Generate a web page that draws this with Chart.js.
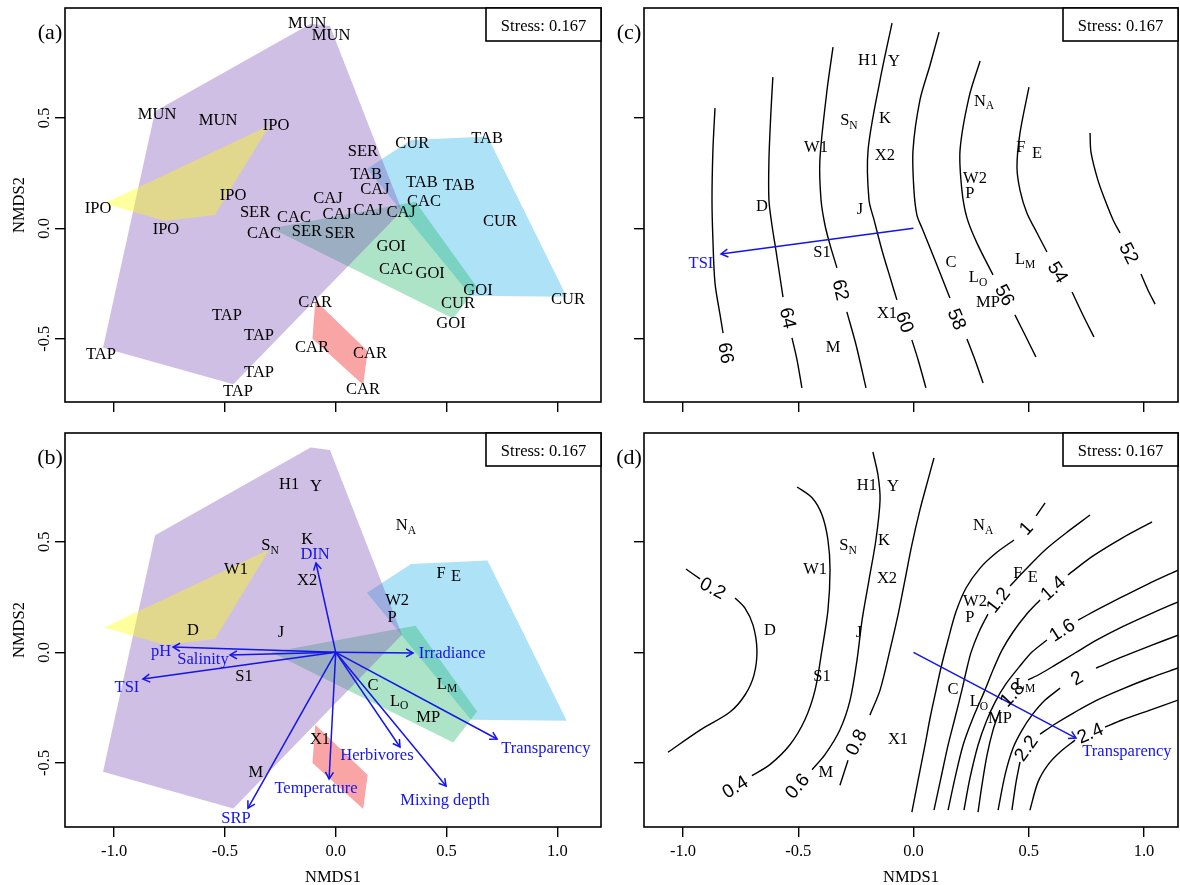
<!DOCTYPE html>
<html>
<head>
<meta charset="utf-8">
<script src="https://cdn.jsdelivr.net/npm/chart.js@4.4.1/dist/chart.umd.min.js"></script>
<style>
html,body{margin:0;padding:0;background:#fff;}
#wrap{position:relative;width:1180px;height:885px;overflow:hidden;background:#fff;}
#wrap canvas{position:absolute;left:0;top:0;width:1180px;height:885px;}
</style>
</head>
<body>
<div id="wrap">
<canvas id="pa" width="1180" height="885"></canvas>
<canvas id="pb" width="1180" height="885"></canvas>
<canvas id="pc" width="1180" height="885"></canvas>
<canvas id="pd" width="1180" height="885"></canvas>
</div>
<script>
// ---------------- DATA ----------------
const xTickVals = [-1.0, -0.5, 0.0, 0.5, 1.0];
const yTickVals = [-0.5, 0.0, 0.5];
const stressText = 'Stress: 0.167';

// (a) site labels
const siteLabels = ['MUN','MUN','MUN','MUN','IPO','SER','CUR','TAB','TAB','CAJ','TAB','TAB','CAC','CAJ','CAJ','CAJ','IPO','IPO','SER','CAC','CAJ','CAC','SER','SER','IPO','CUR','GOI','CAC','GOI','GOI','CUR','CUR','GOI','CAR','TAP','TAP','CAR','CAR','TAP','TAP','TAP','CAR'];
const siteX = [-0.129,-0.021,-0.806,-0.531,-0.269,0.123,0.345,0.683,0.137,0.177,0.389,0.556,0.398,-0.035,0.146,0.295,-0.463,-1.072,-0.364,-0.188,0.006,-0.324,-0.130,0.019,-0.766,0.741,0.250,0.272,0.426,0.642,0.552,1.048,0.520,-0.093,-0.491,-0.346,-0.107,0.155,-1.059,-0.346,-0.441,0.123];
const siteY = [0.933,0.879,0.521,0.494,0.471,0.350,0.386,0.409,0.246,0.178,0.210,0.200,0.124,0.137,0.083,0.074,0.151,0.096,0.074,0.051,0.065,-0.017,-0.012,-0.017,-0.003,0.033,-0.076,-0.184,-0.202,-0.275,-0.338,-0.320,-0.428,-0.333,-0.392,-0.483,-0.537,-0.560,-0.569,-0.646,-0.736,-0.727];

// group hulls (NMDS1, NMDS2)
const hullPurple = [[-0.815,0.530],[-0.113,0.926],[-0.026,0.915],[0.299,0.080],[-0.462,-0.706],[-1.050,-0.540]];
const hullYellow = [[-1.045,0.112],[-0.300,0.465],[-0.545,0.060],[-0.770,0.033]];
const hullBlue   = [[0.141,0.270],[0.340,0.400],[0.685,0.415],[1.042,-0.310],[0.610,-0.305]];
const hullGreen  = [[-0.290,0.000],[0.360,0.120],[0.638,-0.268],[0.530,-0.408]];
const hullRed    = [[-0.092,-0.327],[-0.105,-0.500],[0.124,-0.709],[0.144,-0.555]];

// (b)-(d) taxa labels
const ptNames = ['H1','Y','K','X2','S_N','W1','N_A','F','E','W2','P','D','J','S1','C','L_O','L_M','MP','X1','M'];
const ptXb = [-0.210,-0.089,-0.129,-0.129,-0.296,-0.450,0.317,0.475,0.543,0.277,0.254,-0.644,-0.247,-0.414,0.168,0.286,0.502,0.417,-0.071,-0.360];
const ptYb = [0.762,0.753,0.513,0.327,0.486,0.381,0.576,0.363,0.345,0.237,0.160,0.105,0.092,-0.107,-0.148,-0.216,-0.139,-0.292,-0.388,-0.541];
const ptXc = [-0.197,-0.085,-0.124,-0.124,-0.280,-0.423,0.306,0.466,0.536,0.267,0.245,-0.657,-0.232,-0.397,0.163,0.280,0.484,0.323,-0.115,-0.349];
const ptYc = [0.762,0.757,0.503,0.332,0.490,0.372,0.580,0.368,0.341,0.228,0.160,0.105,0.091,-0.107,-0.149,-0.220,-0.139,-0.333,-0.383,-0.537];
const ptXd = [-0.202,-0.089,-0.128,-0.115,-0.284,-0.427,0.302,0.453,0.518,0.267,0.245,-0.623,-0.236,-0.397,0.171,0.284,0.484,0.375,-0.067,-0.380];
const ptYd = [0.757,0.753,0.508,0.336,0.486,0.381,0.576,0.363,0.341,0.233,0.160,0.101,0.092,-0.107,-0.166,-0.220,-0.139,-0.297,-0.388,-0.541];

// (b) environmental vectors
const envNames = ['DIN','pH','Salinity','TSI','SRP','Temperature','Herbivores','Mixing depth','Transparency','Irradiance'];
const envX = [-0.089,-0.734,-0.477,-0.870,-0.396,-0.030,0.290,0.498,0.728,0.349];
const envY = [0.404,0.024,-0.012,-0.121,-0.705,-0.573,-0.428,-0.605,-0.392,-0.003];
const envLabX = [-0.093,-0.788,-0.599,-0.942,-0.450,-0.089,0.186,0.493,0.948,0.525];
const envLabY = [0.447,0.010,-0.026,-0.157,-0.749,-0.613,-0.464,-0.667,-0.432,-0.003];

// (c) TSI vector and fitted surface
const tsiVec = [-0.835,-0.116];
const tsiVecLab = [-0.922,-0.157];
const tsiLevels = ['66','64','62','60','58','56','54','52'];
const tsi66 = [[-0.861,0.544],[-0.870,0.354],[-0.874,0.128],[-0.870,-0.053],[-0.861,-0.248],[-0.839,-0.392],[-0.826,-0.474]];
const tsi64 = [[-0.610,0.684],[-0.618,0.535],[-0.627,0.309],[-0.627,0.128],[-0.614,0.015],[-0.597,-0.098],[-0.566,-0.311],null,[-0.527,-0.496],[-0.505,-0.596],[-0.484,-0.722]];
const tsi62 = [[-0.349,0.820],[-0.375,0.626],[-0.406,0.309],[-0.401,0.128],[-0.384,0.015],[-0.362,-0.075],[-0.332,-0.179],null,[-0.289,-0.378],[-0.249,-0.528],[-0.206,-0.722]];
const tsi60 = [[-0.093,0.929],[-0.145,0.671],[-0.197,0.354],[-0.193,0.128],[-0.171,0.038],[-0.137,-0.098],[-0.098,-0.234],[-0.072,-0.324],null,[-0.007,-0.505],[0.020,-0.595],[0.054,-0.722]];
const tsi58 = [[0.111,0.888],[0.072,0.739],[0.028,0.580],[-0.002,0.354],[0.002,0.173],[0.015,0.060],[0.037,0.001],[0.093,-0.143],[0.158,-0.315],null,[0.232,-0.501],[0.267,-0.596],[0.302,-0.700]];
const tsi56 = [[0.289,0.757],[0.241,0.594],[0.202,0.354],[0.210,0.173],[0.232,0.047],[0.275,-0.066],[0.345,-0.211],null,[0.440,-0.392],[0.484,-0.483],[0.531,-0.582]];
const tsi54 = [[0.501,0.639],[0.462,0.431],[0.449,0.277],[0.462,0.173],[0.492,0.069],[0.536,-0.021],[0.579,-0.107],null,[0.688,-0.288],[0.735,-0.392],[0.783,-0.492]];
const tsi52 = [[0.766,0.431],[0.770,0.345],[0.800,0.218],[0.831,0.128],[0.866,0.038],[0.896,-0.021],null,[0.987,-0.207],[1.017,-0.279],[1.048,-0.343]];
const tsiPaths = [tsi66,tsi64,tsi62,tsi60,tsi58,tsi56,tsi54,tsi52];
const tsiLabelAt = [[-0.813,-0.564],[-0.544,-0.406],[-0.315,-0.279],[-0.037,-0.424],[0.189,-0.411],[0.397,-0.302],[0.627,-0.198],[0.935,-0.112]];

// (d) Transparency vector and fitted surface
const trVec = [0.705,-0.388];
const trVecLab = [0.926,-0.446];
const trLevels = ['0.2','0.4','0.6','0.8','1','1.2','1.4','1.6','1.8','2','2.2','2.4'];
const tr02 = [[-0.987,0.377],[-0.926,0.332],null,[-0.774,0.246],[-0.731,0.200],[-0.696,0.123],[-0.679,0.010],[-0.692,-0.103],[-0.731,-0.193],[-0.796,-0.270],[-0.926,-0.352],[-1.065,-0.452]];
const tr04 = [[-0.505,0.748],[-0.440,0.699],[-0.397,0.622],[-0.371,0.508],[-0.362,0.373],[-0.371,0.191],[-0.397,0.010],[-0.427,-0.171],[-0.471,-0.305],[-0.536,-0.418],[-0.623,-0.508],[-0.701,-0.558]];
const tr06 = [[-0.176,0.906],[-0.154,0.802],[-0.145,0.689],[-0.163,0.508],[-0.193,0.327],[-0.223,0.146],[-0.245,-0.035],[-0.275,-0.216],[-0.319,-0.350],[-0.384,-0.463],[-0.440,-0.531]];
const tr08 = [[0.089,0.879],[0.063,0.780],[0.028,0.644],[-0.007,0.486],[-0.037,0.327],[-0.067,0.169],[-0.102,0.010],[-0.145,-0.171],[-0.189,-0.284],null,[-0.284,-0.488],[-0.319,-0.601]];
const tr10 = [[0.571,0.676],[0.532,0.617],null,[0.436,0.508],[0.358,0.449],[0.289,0.381],[0.228,0.291],[0.184,0.182],[0.150,0.056],[0.119,-0.071],[0.098,-0.171],[0.072,-0.297],[0.050,-0.420],[0.020,-0.578],[-0.007,-0.723]];
const tr12 = [[0.766,0.621],[0.662,0.540],[0.571,0.463],[0.484,0.372],[0.419,0.300],null,[0.323,0.173],[0.284,0.092],[0.250,0.001],[0.228,-0.089],[0.210,-0.171],[0.180,-0.297],[0.150,-0.420],[0.119,-0.569],[0.089,-0.714]];
const tr14 = [[1.035,0.590],[0.905,0.517],[0.779,0.436],[0.670,0.350],null,[0.549,0.237],[0.488,0.169],[0.432,0.092],[0.384,0.010],[0.345,-0.080],[0.310,-0.171],[0.258,-0.297],[0.215,-0.420],[0.180,-0.569],[0.150,-0.714]];
const tr16 = [[1.148,0.372],[1.017,0.309],[0.896,0.246],[0.787,0.187],[0.714,0.146],null,[0.579,0.056],[0.514,0.001],[0.458,-0.067],[0.401,-0.143],[0.354,-0.225],[0.315,-0.315],[0.280,-0.420],[0.245,-0.569],[0.219,-0.714]];
const tr18 = [[1.148,0.228],[1.026,0.173],[0.905,0.115],[0.796,0.056],[0.701,-0.003],[0.614,-0.058],[0.549,-0.098],[0.497,-0.125],null,[0.375,-0.261],[0.345,-0.352],[0.319,-0.465],[0.297,-0.601],[0.280,-0.723]];
const tr20 = [[1.148,0.078],[1.026,0.029],[0.905,-0.021],[0.792,-0.071],null,[0.636,-0.162],[0.571,-0.216],[0.514,-0.284],[0.471,-0.352],[0.432,-0.433],[0.397,-0.555],[0.367,-0.714]];
const tr22 = [[1.148,-0.071],[1.026,-0.116],[0.905,-0.166],[0.796,-0.216],[0.701,-0.270],[0.614,-0.324],[0.549,-0.370],null,[0.462,-0.496],[0.445,-0.587],[0.427,-0.714]];
const tr24 = [[1.148,-0.216],[1.026,-0.261],[0.905,-0.306],[0.831,-0.338],null,[0.701,-0.397],[0.636,-0.451],[0.584,-0.508],[0.540,-0.587],[0.505,-0.714]];
const trPaths = [tr02,tr04,tr06,tr08,tr10,tr12,tr14,tr16,tr18,tr20,tr22,tr24];
const trLabelAt = [[-0.870,0.291],[-0.774,-0.608],[-0.505,-0.604],[-0.249,-0.406],[0.488,0.562],[0.367,0.237],[0.605,0.291],[0.644,0.101],[0.427,-0.189],[0.709,-0.116],[0.488,-0.433],[0.766,-0.365]];

// ---------------- STYLE / LAYOUT ----------------
const SERIF = "'Liberation Serif','Times New Roman',serif";
const SANS = "'Liberation Sans',Arial,sans-serif";
const TXT = 16.5;
const BLUE = 'rgb(20,20,235)';
const W = 1180, H = 885;

function pts(arr){ return arr.map(p => ({x:p[0], y:p[1]})); }
function closed(arr){ return pts(arr.concat([arr[0]])); }
function pathData(arr){
  const out = []; let prev = null;
  arr.forEach(p => { if (p) { out.push({x:p[0], y:p[1]}); prev = p; } else out.push({x: prev[0], y: null}); });
  return out;
}
function hullDatasets(){
  return [
    {data: closed(hullBlue),   backgroundColor:'rgba(40,180,235,0.38)', order:50},
    {data: closed(hullGreen),  backgroundColor:'rgba(40,185,110,0.38)', order:40},
    {data: closed(hullRed),    backgroundColor:'rgba(240,30,30,0.40)',  order:30},
    {data: closed(hullPurple), backgroundColor:'rgba(128,86,184,0.38)', order:20},
    {data: closed(hullYellow), backgroundColor:'rgba(255,255,0,0.38)',  order:10}
  ].map(d => Object.assign(d, {fill:'shape', borderWidth:0, borderColor:'rgba(0,0,0,0)', pointRadius:0}));
}

function axisOpts(r, ticks, ax){
  return {
    type:'linear', min:r[0], max:r[1], position: ax === 'x' ? 'bottom' : 'left',
    afterFit(s){ if (ax === 'x') s.height = 0; else s.width = 0; },
    afterBuildTicks(s){ s.ticks = ticks.map(v => ({value:v})); },
    ticks:{display:false},
    grid:{display:true, drawOnChartArea:false, drawTicks:true, tickLength:10, color:'#000', lineWidth:1.4},
    border:{display:false}
  };
}

function drawLabel(ctx, text, x, y, color, size){
  let main = text, sub = '';
  const i = text.indexOf('_');
  if (i >= 0){ main = text.slice(0,i); sub = text.slice(i+1); }
  const subSize = size * 0.7;
  ctx.font = size + 'px ' + SERIF;
  const wm = ctx.measureText(main).width;
  ctx.font = subSize + 'px ' + SERIF;
  const ws = sub ? ctx.measureText(sub).width : 0;
  const x0 = x - (wm + ws) / 2, base = y + size * 0.33;
  ctx.fillStyle = color; ctx.textAlign = 'left'; ctx.textBaseline = 'alphabetic';
  ctx.font = size + 'px ' + SERIF;
  ctx.fillText(main, x0, base);
  if (sub){ ctx.font = subSize + 'px ' + SERIF; ctx.fillText(sub, x0 + wm, base + size * 0.22); }
}

function arrowHead(ctx, x0, y0, x1, y1, color){
  const a = Math.atan2(y1 - y0, x1 - x0), L = 8, w = Math.PI / 6;
  ctx.strokeStyle = color; ctx.lineWidth = 1.5;
  ctx.beginPath();
  ctx.moveTo(x1 - L * Math.cos(a - w), y1 - L * Math.sin(a - w));
  ctx.lineTo(x1, y1);
  ctx.lineTo(x1 - L * Math.cos(a + w), y1 - L * Math.sin(a + w));
  ctx.stroke();
}

function contourLabel(ctx, sx, sy, path, pos, text){
  const px = sx.getPixelForValue(pos[0]), py = sy.getPixelForValue(pos[1]);
  const P = path.filter(p => p).map(p => [sx.getPixelForValue(p[0]), sy.getPixelForValue(p[1])]);
  const d = P.map((p, i) => [Math.hypot(p[0] - px, p[1] - py), i]).sort((a, b) => a[0] - b[0]);
  const i1 = Math.min(d[0][1], d[1][1]), i2 = Math.max(d[0][1], d[1][1]);
  let ang = Math.atan2(P[i2][1] - P[i1][1], P[i2][0] - P[i1][0]);
  if (ang > Math.PI / 2) ang -= Math.PI;
  if (ang <= -Math.PI / 2) ang += Math.PI;
  ctx.save();
  ctx.translate(px, py); ctx.rotate(ang);
  ctx.font = '19px ' + SANS; ctx.fillStyle = '#000';
  ctx.textAlign = 'center'; ctx.textBaseline = 'middle';
  ctx.fillText(text, 0, 1);
  ctx.restore();
}

function decoPlugin(o){
  return {
    id: 'deco_' + o.key,
    afterDatasetsDraw(chart){
      const ctx = chart.ctx, sx = chart.scales.x, sy = chart.scales.y, A = chart.chartArea;
      ctx.save();
      ctx.beginPath(); ctx.rect(A.left, A.top, A.right - A.left, A.bottom - A.top); ctx.clip();
      if (o.contours){
        o.contours.paths.forEach((p, i) => contourLabel(ctx, sx, sy, p, o.contours.at[i], o.contours.levels[i]));
      }
      if (o.arrows){
        const x0 = sx.getPixelForValue(0), y0 = sy.getPixelForValue(0);
        o.arrows.x.forEach((vx, i) => {
          arrowHead(ctx, x0, y0, sx.getPixelForValue(vx), sy.getPixelForValue(o.arrows.y[i]), BLUE);
          drawLabel(ctx, o.arrows.names[i], sx.getPixelForValue(o.arrows.lx[i]), sy.getPixelForValue(o.arrows.ly[i]), BLUE, TXT);
        });
      }
      if (o.labels){
        o.labels.names.forEach((t, i) => drawLabel(ctx, t, sx.getPixelForValue(o.labels.x[i]), sy.getPixelForValue(o.labels.y[i]), '#000', TXT));
      }
      ctx.restore();
    },
    afterDraw(chart){
      const ctx = chart.ctx, sx = chart.scales.x, sy = chart.scales.y, A = chart.chartArea;
      ctx.save();
      ctx.strokeStyle = '#000'; ctx.lineWidth = 1.6;
      ctx.strokeRect(A.left, A.top, A.right - A.left, A.bottom - A.top);
      ctx.fillStyle = '#fff';
      ctx.fillRect(A.right - 115, A.top, 115, 33);
      ctx.strokeRect(A.right - 115, A.top, 115, 33);
      ctx.fillStyle = '#000'; ctx.font = TXT + 'px ' + SERIF; ctx.textAlign = 'center'; ctx.textBaseline = 'alphabetic';
      ctx.fillText(stressText, A.right - 57.5, A.top + 22.5);
      ctx.font = '22px ' + SERIF;
      ctx.fillText(o.letter, A.left - 15, A.top + 31);
      ctx.font = TXT + 'px ' + SERIF;
      if (o.yLabels){
        yTickVals.forEach(v => {
          ctx.save(); ctx.translate(A.left - 16, sy.getPixelForValue(v)); ctx.rotate(-Math.PI / 2);
          ctx.fillText(v.toFixed(1), 0, 0); ctx.restore();
        });
        ctx.save(); ctx.translate(23.5, (A.top + A.bottom) / 2); ctx.rotate(-Math.PI / 2);
        ctx.fillText('NMDS2', 0, 0); ctx.restore();
      }
      if (o.xLabels){
        xTickVals.forEach(v => ctx.fillText(v.toFixed(1), sx.getPixelForValue(v), A.bottom + 28.5));
        ctx.fillText('NMDS1', (A.left + A.right) / 2, A.bottom + 54.5);
      }
      ctx.restore();
    }
  };
}

function build(id, area, xr, yr, datasets, o){
  return new Chart(document.getElementById(id), {
    type: 'line',
    data: {datasets},
    options: {
      responsive:false, animation:false, devicePixelRatio:1,
      layout:{padding:{left:area[0], top:area[1], right:W - area[2], bottom:H - area[3]}},
      plugins:{legend:{display:false}, tooltip:{enabled:false}},
      elements:{point:{radius:0}, line:{tension:0}},
      scales:{x:axisOpts(xr, xTickVals, 'x'), y:axisOpts(yr, yTickVals, 'y')}
    },
    plugins:[decoPlugin(o)]
  });
}

function vecDataset(v, color){
  return {data: pts([[0,0], v]), borderColor: color, borderWidth: 1.5, pointRadius: 0, fill: false, order: 1};
}
function contourDatasets(paths){
  return paths.map(p => ({data: pathData(p), borderColor:'#000', borderWidth:1.4, pointRadius:0, fill:false, spanGaps:false, tension:0.3, order:2}));
}

// (a)
build('pa', [65,8,601,402], [-1.2216,1.197], [-0.786,0.997], hullDatasets(),
  {key:'a', letter:'(a)', yLabels:true, labels:{names:siteLabels, x:siteX, y:siteY}});
// (b)
build('pb', [65,433,601,827], [-1.2216,1.197], [-0.790,0.992],
  hullDatasets().concat(envX.map((vx, i) => vecDataset([vx, envY[i]], BLUE))),
  {key:'b', letter:'(b)', yLabels:true, xLabels:true,
   labels:{names:ptNames, x:ptXb, y:ptYb},
   arrows:{names:envNames, x:envX, y:envY, lx:envLabX, ly:envLabY}});
// (c)
build('pc', [644,8,1178,402], [-1.169,1.1475], [-0.786,0.997],
  contourDatasets(tsiPaths).concat([vecDataset(tsiVec, BLUE)]),
  {key:'c', letter:'(c)', labels:{names:ptNames, x:ptXc, y:ptYc},
   contours:{paths:tsiPaths, at:tsiLabelAt, levels:tsiLevels},
   arrows:{names:['TSI'], x:[tsiVec[0]], y:[tsiVec[1]], lx:[tsiVecLab[0]], ly:[tsiVecLab[1]]}});
// (d)
build('pd', [644,433,1178,827], [-1.169,1.1475], [-0.790,0.992],
  contourDatasets(trPaths).concat([vecDataset(trVec, BLUE)]),
  {key:'d', letter:'(d)', xLabels:true, labels:{names:ptNames, x:ptXd, y:ptYd},
   contours:{paths:trPaths, at:trLabelAt, levels:trLevels},
   arrows:{names:['Transparency'], x:[trVec[0]], y:[trVec[1]], lx:[trVecLab[0]], ly:[trVecLab[1]]}});
</script>
</body>
</html>
